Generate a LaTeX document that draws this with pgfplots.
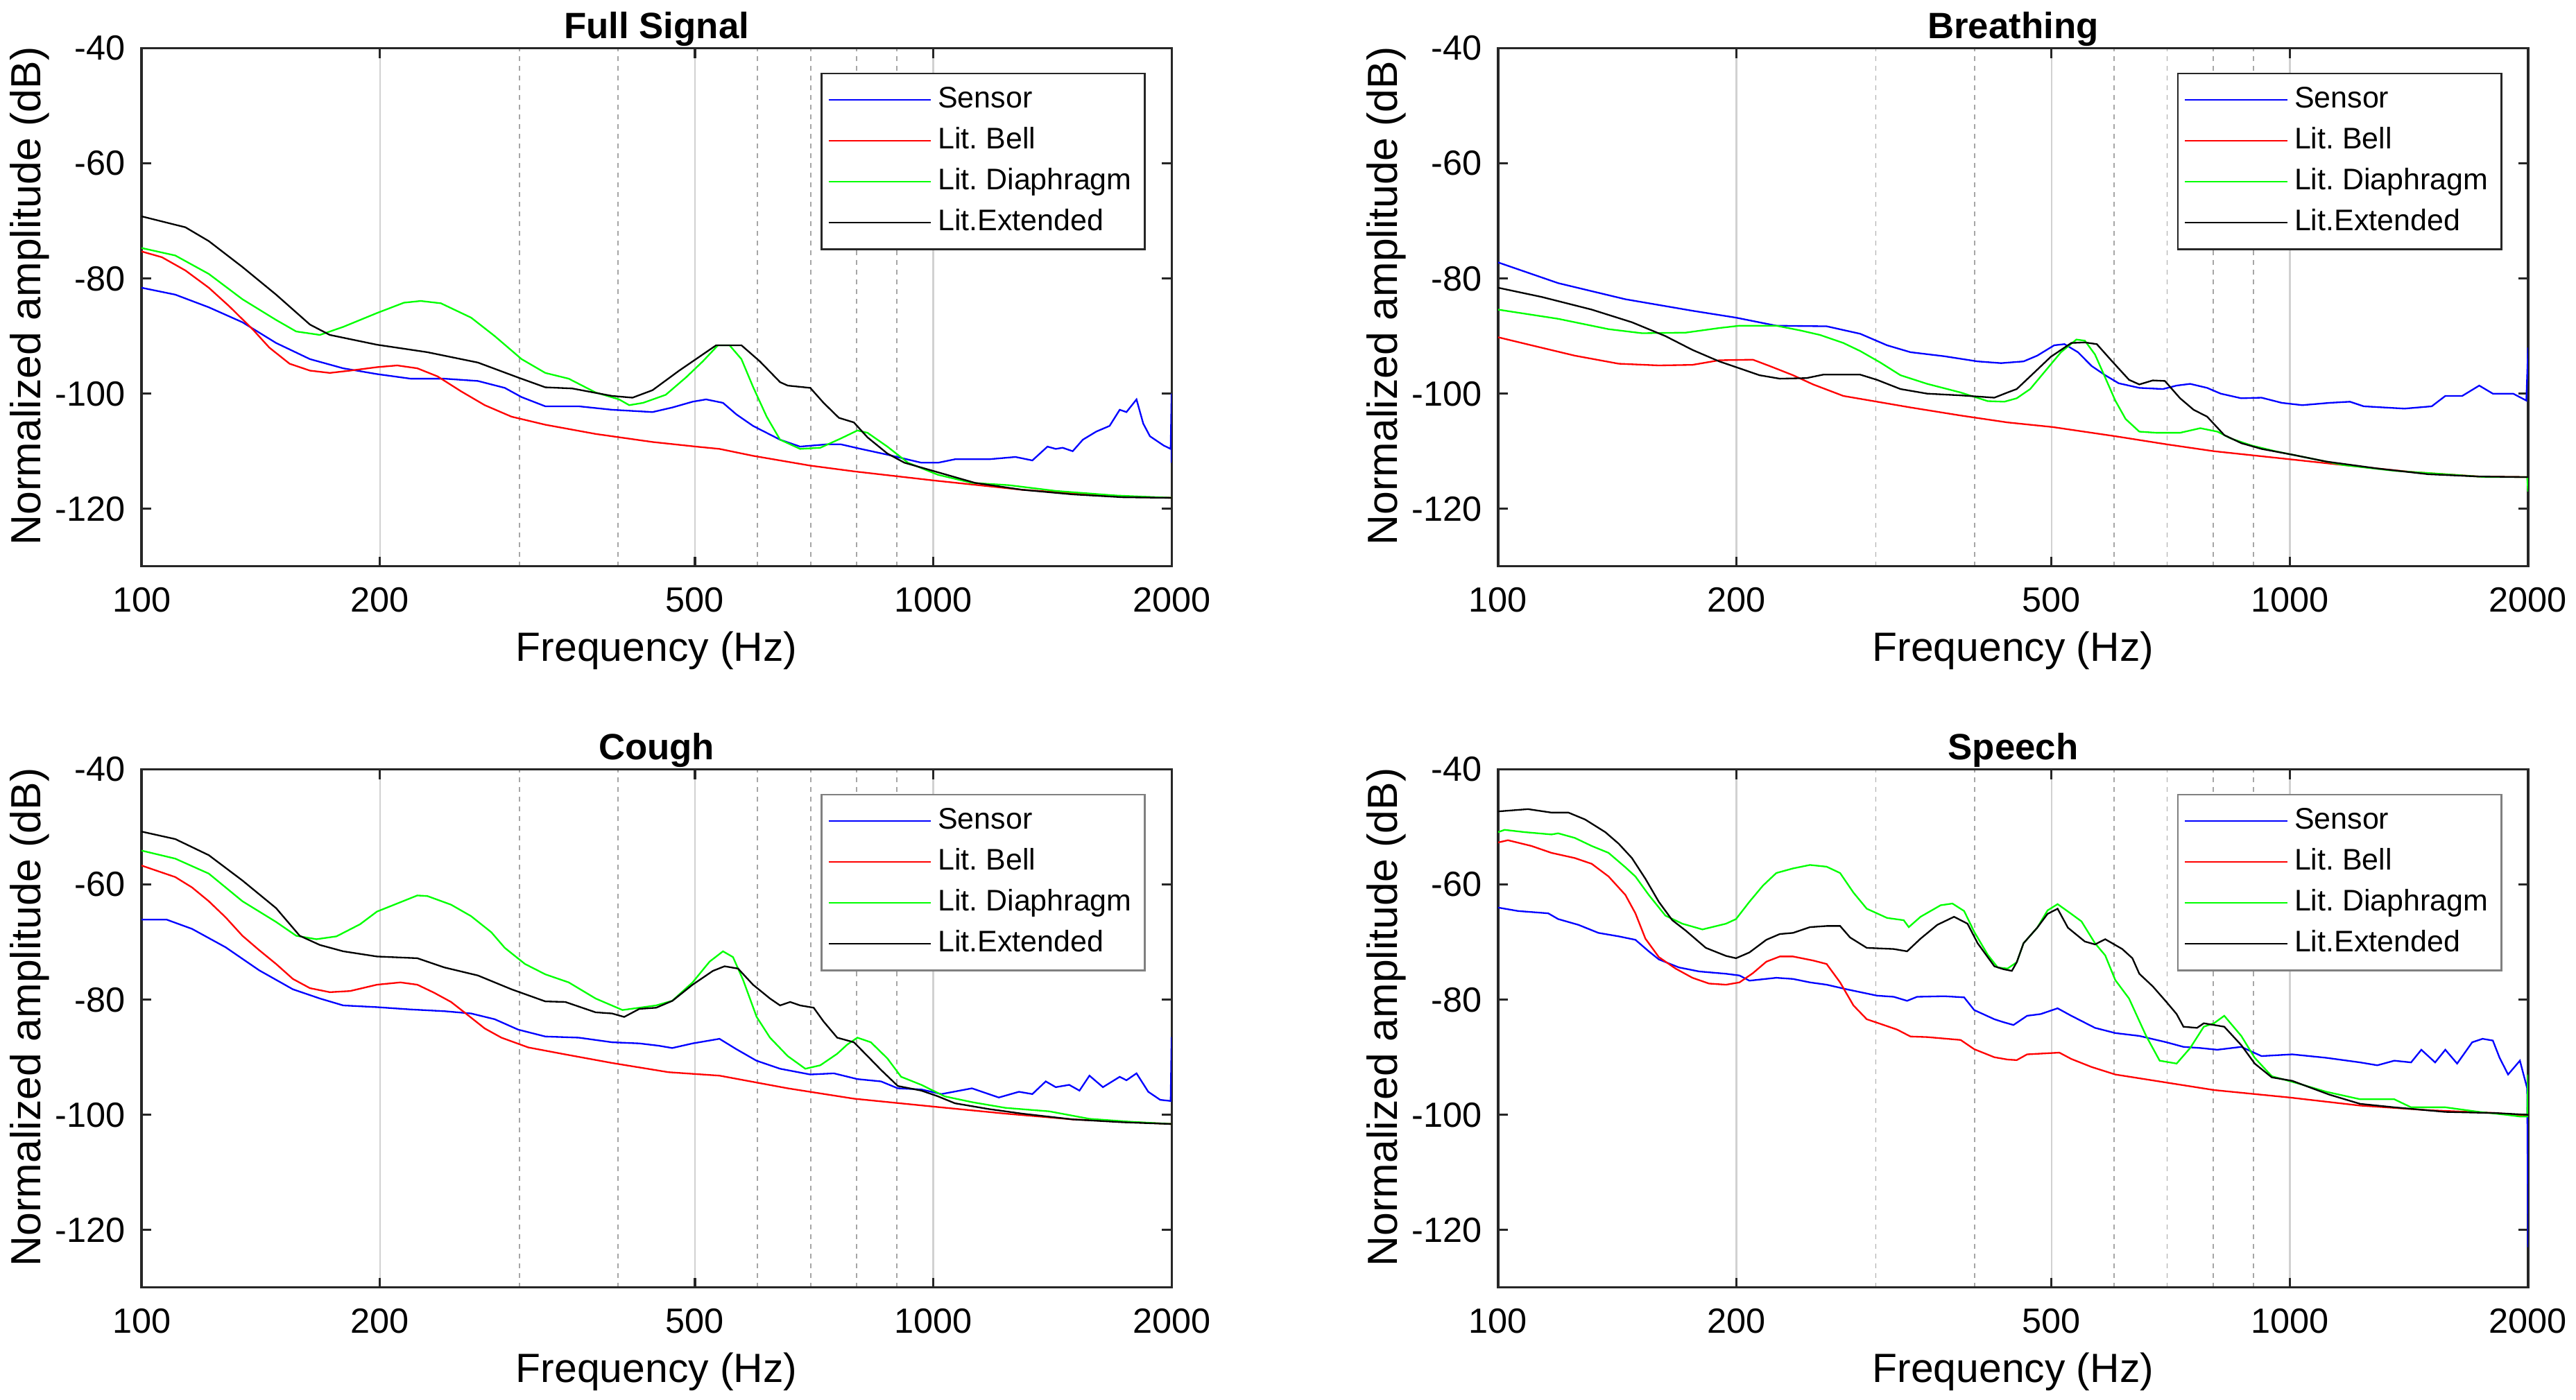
\documentclass[border=0pt]{standalone}
\usepackage{fontspec}
\setmainfont{Liberation Sans}
\usepackage{pgfplots}
\pgfplotsset{compat=1.18}

\definecolor{axgray}{RGB}{38,38,38}
\definecolor{leggray}{RGB}{128,128,128}
\definecolor{mblue}{RGB}{0,0,255}
\definecolor{mred}{RGB}{255,0,0}
\definecolor{mgreen}{RGB}{0,255,0}

\pgfplotsset{
  every axis/.append style={
    scale only axis, width=318pt, height=160pt, anchor=south west,
    xmin=100, xmax=2000, ymin=-130, ymax=-40,
    xtick={100,200,500,1000,2000}, xticklabels={100,200,500,1000,2000},
    minor xtick={300,400,600,700,800,900},
    ytick={-120,-100,-80,-60,-40}, yticklabels={-120,-100,-80,-60,-40},
    tick align=inside, tick pos=both,
    major tick length=3pt, minor tick length=0pt,
    xmajorgrids, xminorgrids,
    major grid style={black!18, line width=0.5pt},
    minor grid style={black!35, line width=0.4pt, dash pattern=on 1.5pt off 1.5pt},
    axis line style={axgray, line width=0.7pt},
    tick style={axgray, line width=0.7pt},
    tick label style={font=\fontsize{10.8}{12}\selectfont},
    x tick label style={yshift=-3pt},
    y tick label style={xshift=-1.5pt},
    label style={font=\fontsize{12.6}{15}\selectfont},
    xlabel={Frequency (Hz)}, ylabel={Normalized amplitude (dB)},
    xlabel style={at={(axis description cs:0.5,-0.1625)}, anchor=center},
    ylabel style={at={(axis description cs:-0.1088,0.522)}, anchor=center,
      font=\fontsize{13}{15}\selectfont},
    title style={at={(axis description cs:0.5,1)}, anchor=center, yshift=0pt,
      font=\bfseries\fontsize{11.3}{13}\selectfont},
    legend style={at={(rel axis cs:1,1)}, anchor=north east,
      xshift=-8pt, yshift=-7.5pt, draw=axgray, line width=0.6pt,
      font=\fontsize{9.2}{11}\selectfont, inner xsep=2pt, inner ysep=1.9pt,
      nodes={inner ysep=1.8pt, text height=7pt, text depth=2pt}},
    legend cell align=left,
  },
  legend image code/.code={\draw[#1] (0pt,0pt) -- (31.5pt,0pt);},
}

\begin{document}
\frenchspacing
\begin{tikzpicture}
\path[use as bounding box] (-43.7pt,-34.7pt) rectangle (751.6pt,397.6pt);

% Full Signal
\begin{semilogxaxis}[at={(0pt,222.7pt)}, title={Full Signal}]
\addplot[mblue, line width=0.5pt] coordinates {
(100,-81.6) (110.3,-82.8) (121.6,-85.0) (134.1,-87.6) (147.9,-91.2) (163.2,-94.0)
(179.8,-95.6) (198.3,-96.6) (218.7,-97.4) (241.2,-97.4) (266,-97.8) (287.6,-99.0)
(302,-100.6) (323.6,-102.2) (356.7,-102.2) (393,-102.8) (442,-103.2) (468.3,-102.4)
(496.6,-101.4) (516.5,-101.0) (542.5,-101.6) (564,-103.6) (592,-105.6) (640.5,-108.0)
(679,-109.2) (734.5,-108.8) (764,-108.8) (810,-109.6) (875,-110.6) (966,-112.0)
(1014,-112.0) (1065,-111.4) (1175,-111.4) (1270,-111.0) (1334,-111.6) (1394,-109.2)
(1428,-109.6) (1457,-109.4) (1500,-110.0) (1545,-108.0) (1606,-106.6) (1670,-105.6)
(1720,-102.8) (1754,-103.2) (1806,-101.0) (1842,-105.2) (1878,-107.4) (1954,-109.0)
(1995,-109.6) (2000,-100) (2000,-112)
};
\addlegendentry{Sensor}
\addplot[mred, line width=0.5pt] coordinates {
(100,-75.3) (106.1,-76.3) (113.6,-78.6) (121.6,-81.6) (129,-84.8) (138.1,-88.8)
(145,-92.0) (153.8,-94.8) (163.2,-96.0) (172.9,-96.4) (183.4,-96.0) (198.3,-95.4)
(210.3,-95.1) (223,-95.6) (236.5,-97.0) (253.3,-99.6) (271.3,-102.0) (293.3,-104.0)
(323.6,-105.4) (374.6,-107.0) (442,-108.4) (501.5,-109.2) (537,-109.6) (592,-110.8)
(699,-112.5) (794,-113.5) (1004,-115.1) (1295,-116.7) (1737,-117.9) (2000,-118.1)
};
\addlegendentry{Lit. Bell}
\addplot[mgreen, line width=0.5pt] coordinates {
(100,-74.7) (110.3,-76.0) (121.6,-79.2) (134.1,-83.6) (147.9,-87.2) (156.8,-89.2)
(168,-89.8) (179.8,-88.4) (198.3,-86.0) (214.5,-84.2) (225.2,-83.9) (238.8,-84.3)
(260.8,-86.8) (279.3,-90.0) (302,-94.0) (323.6,-96.4) (346.4,-97.4) (374.6,-99.8)
(401,-101.0) (413,-102.0) (430,-101.6) (459.3,-100.2) (487,-97.2) (511.5,-94.4)
(534.6,-91.6) (553,-91.6) (572.4,-94.0) (592,-98.8) (616,-104.0) (640.5,-108.0)
(679,-109.6) (720,-109.4) (764,-107.8) (802,-106.4) (826,-106.8) (875,-109.2)
(929,-112.0) (1014,-114.1) (1119,-115.5) (1246,-115.9) (1428,-116.9) (1703,-117.7)
(2000,-118.1)
};
\addlegendentry{Lit. Diaphragm}
\addplot[black, line width=0.5pt] coordinates {
(100,-69.2) (113.6,-71.1) (121.6,-73.5) (134.1,-78.0) (147.9,-82.8) (163.2,-88.0)
(172.9,-89.8) (198.3,-91.5) (229.6,-92.8) (266,-94.6) (299,-97.2) (323.6,-98.9)
(349.9,-99.1) (393,-100.4) (417,-100.7) (442,-99.4) (477.6,-96.0) (501.5,-94.0)
(531.8,-91.6) (572.4,-91.6) (604,-94.4) (640.5,-98.0) (654.9,-98.6) (699.3,-99.0)
(727,-101.6) (760,-104.2) (794,-105.0) (826,-107.6) (875,-110.4) (919.6,-112.0)
(1004,-113.5) (1129,-115.5) (1295,-116.7) (1500,-117.5) (1737,-118.0) (2000,-118.1)
};
\addlegendentry{Lit.Extended}
\end{semilogxaxis}

% Breathing
\begin{semilogxaxis}[at={(418.8pt,222.7pt)}, title={Breathing}]
\addplot[mblue, line width=0.5pt] coordinates {
(100,-77.2) (119.1,-80.8) (144.8,-83.6) (176,-85.6) (199.8,-86.8) (224.6,-88.2)
(260,-88.3) (286.7,-89.6) (310,-91.6) (331.8,-92.8) (366,-93.5) (403.4,-94.4)
(431.8,-94.7) (461,-94.4) (479.7,-93.4) (504,-91.6) (519.3,-91.4) (540,-92.8)
(562,-95.2) (584.6,-96.8) (608,-98.2) (645.6,-99.0) (691.6,-99.2) (719.5,-98.6)
(748.5,-98.3) (786.5,-99.0) (818,-100.0) (868,-100.8) (921,-100.7) (977,-101.6)
(1037,-102.0) (1122,-101.6) (1191,-101.4) (1240,-102.2) (1315,-102.4) (1396,-102.6)
(1511,-102.2) (1572,-100.4) (1651,-100.4) (1735,-98.6) (1805,-100.0) (1915,-100.0)
(1990,-101.2) (2000,-92)
};
\addlegendentry{Sensor}
\addplot[mred, line width=0.5pt] coordinates {
(100,-90.2) (110.2,-91.6) (125,-93.4) (142,-94.8) (159.6,-95.1) (176,-95.0)
(190.3,-94.2) (209.8,-94.1) (220.3,-95.2) (235.8,-96.8) (250,-98.4) (273,-100.4)
(301,-101.4) (331.8,-102.4) (384,-103.8) (440,-105.0) (501.6,-105.8) (602,-107.4)
(698.6,-108.8) (802,-110.0) (1000,-111.4) (1168,-112.4) (1423,-113.6) (1735,-114.4)
(2000,-114.5)
};
\addlegendentry{Lit. Bell}
\addplot[mgreen, line width=0.5pt] coordinates {
(100,-85.4) (119.1,-87.0) (137.9,-88.8) (152,-89.5) (172.6,-89.4) (190.3,-88.6)
(201.8,-88.2) (224.6,-88.2) (240.5,-89.0) (255,-89.8) (273,-91.2) (286.7,-92.6)
(304,-94.6) (322.3,-96.8) (348.4,-98.3) (384,-99.8) (415.4,-101.3) (436,-101.4)
(452,-100.8) (470,-99.2) (494.3,-95.6) (514,-92.8) (537.6,-90.6) (551,-90.8)
(567.5,-93.2) (584.6,-97.2) (602,-101.2) (620.3,-104.4) (645.6,-106.6) (678.5,-106.8)
(726.8,-106.8) (771,-106.0) (810,-106.6) (843,-107.8) (894.4,-109.0) (958.7,-110.0)
(1058,-111.2) (1168,-112.4) (1355,-113.4) (1572,-114.0) (1769,-114.5) (1995,-114.5)
(2000,-117)
};
\addlegendentry{Lit. Diaphragm}
\addplot[black, line width=0.5pt] coordinates {
(100,-81.6) (113.5,-83.2) (131.3,-85.4) (147.6,-87.6) (162.7,-90.0) (176,-92.4)
(190.3,-94.4) (201.8,-95.6) (213.9,-96.8) (226.9,-97.4) (245.2,-97.3) (257.4,-96.7)
(286.7,-96.7) (301,-97.6) (322.3,-99.2) (348.4,-100.0) (384,-100.3) (423.5,-100.7)
(440,-99.8) (452,-99.2) (475,-96.4) (499,-93.6) (529.7,-91.2) (551,-91.1)
(570.5,-91.4) (596.6,-94.4) (626.6,-97.6) (645.6,-98.4) (671.4,-97.7) (695.4,-97.8)
(726.8,-100.8) (756,-102.8) (786.5,-104.0) (826.5,-107.2) (868.4,-108.6) (921,-109.6)
(1007,-110.6) (1112,-111.8) (1290,-113.0) (1496,-114.0) (1735,-114.4) (2000,-114.5)
};
\addlegendentry{Lit.Extended}
\end{semilogxaxis}

% Cough
\begin{semilogxaxis}[at={(0pt,0pt)}, title={Cough}, legend style={draw=leggray}]
\addplot[mblue, line width=0.5pt] coordinates {
(100,-66.1) (107.6,-66.1) (115.8,-67.7) (127.7,-70.9) (140.8,-74.9) (155.3,-78.2)
(168,-79.8) (179.8,-81.0) (198.3,-81.3) (218.7,-81.7) (241.2,-82.0) (260.8,-82.4)
(279.3,-83.4) (299,-85.2) (323.6,-86.4) (356.7,-86.6) (393,-87.4) (425.4,-87.6)
(450,-88.0) (468,-88.4) (496.6,-87.6) (537,-86.8) (564,-88.6) (598,-90.6)
(640.5,-92.0) (699.3,-93.0) (749,-92.8) (802,-93.8) (859,-94.2) (902,-95.4)
(966,-95.6) (1024,-96.4) (1119,-95.4) (1175,-96.4) (1210,-97.0) (1283,-96.0)
(1334,-96.4) (1387,-94.2) (1428,-95.2) (1485,-94.8) (1530,-95.8) (1575,-93.2)
(1638,-95.2) (1720,-93.4) (1754,-94.0) (1806,-92.8) (1869,-96.0) (1935,-97.4)
(1995,-97.6) (2000,-86.5)
};
\addlegendentry{Sensor}
\addplot[mred, line width=0.5pt] coordinates {
(100,-56.7) (110.3,-58.7) (115.8,-60.5) (121.6,-62.9) (127.7,-65.7) (134.1,-68.9)
(140.8,-71.4) (147.9,-73.8) (155.3,-76.4) (163.2,-78.0) (172.9,-78.7) (183.4,-78.5)
(198.3,-77.4) (212.3,-77.0) (223,-77.4) (234.2,-78.8) (246,-80.4) (255.7,-82.2)
(271.3,-85.0) (284.8,-86.6) (308,-88.3) (339.6,-89.4) (393,-91.0) (463,-92.6)
(537,-93.2) (654.9,-95.4) (794,-97.2) (1004,-98.6) (1234,-99.8) (1500,-100.8)
(2000,-101.6)
};
\addlegendentry{Lit. Bell}
\addplot[mgreen, line width=0.5pt] coordinates {
(100,-54.1) (110.3,-55.5) (121.6,-58.1) (134.1,-62.9) (147.9,-66.5) (156.8,-68.9)
(166.3,-69.5) (176.3,-69.0) (188.8,-66.9) (198.3,-64.7) (210.3,-63.3) (223,-61.9)
(229.6,-62.0) (246,-63.5) (260.8,-65.5) (276.6,-68.3) (287.6,-71.0) (305,-73.8)
(323.6,-75.6) (346.4,-77.0) (374.6,-79.8) (405,-81.8) (425.4,-81.4) (446.7,-81.0)
(468,-80.2) (496.6,-77.0) (521.7,-73.4) (542.5,-71.6) (558.5,-72.6) (575.3,-76.6)
(598.3,-83.0) (622,-86.6) (654.9,-89.8) (689.3,-92.0) (720,-91.4) (756.3,-89.4)
(778.8,-87.8) (802,-86.6) (834,-87.4) (875,-90.2) (910.8,-93.4) (966,-94.8)
(1034,-96.8) (1119,-97.8) (1234,-98.8) (1401,-99.4) (1575,-100.7) (1772,-101.2)
(2000,-101.6)
};
\addlegendentry{Lit. Diaphragm}
\addplot[black, line width=0.5pt] coordinates {
(100,-50.8) (110.3,-52.1) (121.6,-54.9) (134.1,-59.3) (147.9,-64.1) (158.4,-68.9)
(168,-70.5) (179.8,-71.6) (198.3,-72.5) (223,-72.8) (241.2,-74.4) (266,-75.8)
(293.3,-78.2) (323.6,-80.3) (343,-80.4) (374.6,-82.2) (393,-82.4) (407,-83.0)
(425.4,-81.6) (446.7,-81.4) (468.3,-80.2) (496.6,-77.4) (526.8,-75.0) (545,-74.2)
(566.8,-74.6) (592,-77.4) (622,-79.8) (640.5,-81.0) (659.6,-80.4) (679,-81.0)
(706.3,-81.4) (727,-83.8) (756.3,-86.6) (794,-87.4) (826,-89.8) (859,-92.2)
(902,-95.0) (966,-95.8) (1014,-96.8) (1065,-98.0) (1175,-99.0) (1295,-99.8)
(1500,-100.8) (1737,-101.3) (2000,-101.6)
};
\addlegendentry{Lit.Extended}
\end{semilogxaxis}

% Speech
\begin{semilogxaxis}[at={(418.8pt,0pt)}, title={Speech}, legend style={draw=leggray}]
\addplot[mblue, line width=0.5pt] coordinates {
(100,-64.0) (106,-64.6) (115.7,-65.0) (119.1,-66.0) (126.3,-67.0) (133.9,-68.4)
(142,-69.0) (149.1,-69.6) (155,-71.6) (159.6,-73.0) (169.2,-74.4) (179.5,-75.1)
(194.1,-75.5) (201.8,-75.8) (207.7,-76.7) (224.6,-76.2) (235.8,-76.4) (247.7,-77.0)
(260,-77.4) (275.7,-78.2) (301,-79.3) (316,-79.5) (328.6,-80.2) (338.3,-79.5)
(366,-79.4) (387.9,-79.6) (399.4,-81.8) (423.5,-83.4) (434.6,-83.9) (447.7,-84.4)
(465.8,-82.8) (484.6,-82.5) (509,-81.5) (529.7,-82.8) (567.5,-84.9) (602,-85.8)
(645.6,-86.3) (698.6,-87.4) (734,-88.2) (771,-88.4) (810,-88.7) (868.4,-88.2)
(921,-89.8) (1007,-89.5) (1112,-90.1) (1227,-90.9) (1290,-91.4) (1355,-90.6)
(1423,-90.9) (1466,-88.7) (1526,-90.9) (1572,-88.7) (1627,-91.1) (1700,-87.4)
(1752,-86.8) (1805,-87.1) (1841,-90.1) (1887,-93.0) (1953,-90.6) (1995,-95.4)
(2000,-123)
};
\addlegendentry{Sensor}
\addplot[mred, line width=0.5pt] coordinates {
(100,-52.7) (102.9,-52.3) (110.2,-53.3) (116.8,-54.5) (125,-55.4) (131.3,-56.4)
(137.9,-58.6) (144.8,-61.8) (149.1,-65.0) (153.5,-69.4) (159.6,-72.6) (167.6,-74.6)
(176,-76.2) (184.7,-77.2) (194.1,-77.4) (201.8,-77.0) (209.8,-75.4) (218.2,-73.4)
(226.9,-72.5) (235.8,-72.5) (250,-73.2) (260,-73.8) (270.4,-77.0) (281.1,-81.0)
(292.2,-83.4) (304,-84.2) (319.2,-85.2) (331.8,-86.4) (348.4,-86.5) (384,-87.0)
(399.4,-88.6) (423.5,-90.0) (440,-90.4) (452,-90.5) (465.8,-89.5) (511.6,-89.2)
(529.7,-90.3) (562,-91.7) (602,-93.0) (698.6,-94.4) (802,-95.7) (1000,-97.0)
(1227,-98.4) (1496,-99.2) (1822,-99.7) (2000,-100.2)
};
\addlegendentry{Lit. Bell}
\addplot[mgreen, line width=0.5pt] coordinates {
(100,-50.9) (101.9,-50.5) (108.1,-50.9) (116.8,-51.3) (119.1,-51.1) (125,-51.9)
(131.3,-53.3) (137.9,-54.5) (144.8,-57.0) (149.1,-58.6) (155,-61.8) (162.7,-65.4)
(170.9,-66.8) (181.2,-67.8) (194.1,-66.8) (199.8,-66.0) (207.7,-63.0) (216,-60.2)
(224.6,-58.0) (235.8,-57.2) (247.7,-56.6) (260,-56.9) (270.4,-58.0) (281.1,-61.4)
(292.2,-64.2) (310,-65.8) (325.4,-66.2) (330.2,-67.4) (341.7,-65.6) (362.2,-63.6)
(374.9,-63.3) (387.9,-64.6) (399.4,-68.2) (415.4,-72.2) (427.6,-74.4) (440,-74.6)
(452,-73.5) (461,-70.2) (479.7,-67.5) (494.3,-64.5) (509,-63.4) (529.7,-65.1)
(545.6,-66.4) (567.5,-70.2) (584.6,-72.3) (602,-76.6) (626.6,-79.8) (658.5,-86.3)
(685,-90.6) (719.6,-91.1) (748.5,-88.4) (778.8,-84.7) (802,-84.1) (826.5,-82.8)
(868.4,-86.3) (903,-90.1) (949,-93.3) (1027,-94.6) (1112,-96.0) (1227,-97.3)
(1355,-97.3) (1423,-98.7) (1572,-98.7) (1735,-99.5) (1877,-100.0) (1953,-100.3)
(1995,-100.3) (2000,-93)
};
\addlegendentry{Lit. Diaphragm}
\addplot[black, line width=0.5pt] coordinates {
(100,-47.3) (109.1,-46.9) (116.8,-47.5) (122.7,-47.5) (128.8,-48.7) (136.6,-50.9)
(142,-52.9) (147.6,-55.4) (153.5,-59.0) (159.6,-63.0) (166,-66.2) (172.6,-68.0)
(183,-71.0) (194.1,-72.4) (199.8,-72.8) (207.7,-71.8) (218.2,-69.6) (226.9,-68.6)
(235.8,-68.4) (247.7,-67.4) (260,-67.2) (270.4,-67.2) (278.4,-69.2) (292.2,-71.0)
(316,-71.2) (328.6,-71.6) (341.7,-69.4) (358.8,-67.0) (376.7,-65.6) (391.7,-66.8)
(403.4,-70.2) (423.5,-74.2) (434.6,-74.7) (445.6,-75.0) (452,-73.5) (461,-70.2)
(479.7,-67.5) (494.3,-65.1) (509,-64.2) (524.5,-67.5) (551,-69.9) (567.5,-70.4)
(584.6,-69.5) (614.3,-71.2) (632.7,-72.8) (645.6,-75.5) (671.4,-77.7) (698.6,-80.4)
(719.6,-82.5) (734,-84.7) (763.6,-84.9) (778.8,-84.1) (826.5,-84.7) (868.4,-87.9)
(903,-91.1) (949,-93.5) (1007,-94.1) (1058,-95.2) (1122,-96.5) (1227,-98.1)
(1355,-98.7) (1572,-99.5) (1822,-99.7) (2000,-100.0)
};
\addlegendentry{Lit.Extended}
\end{semilogxaxis}
\end{tikzpicture}
\end{document}
